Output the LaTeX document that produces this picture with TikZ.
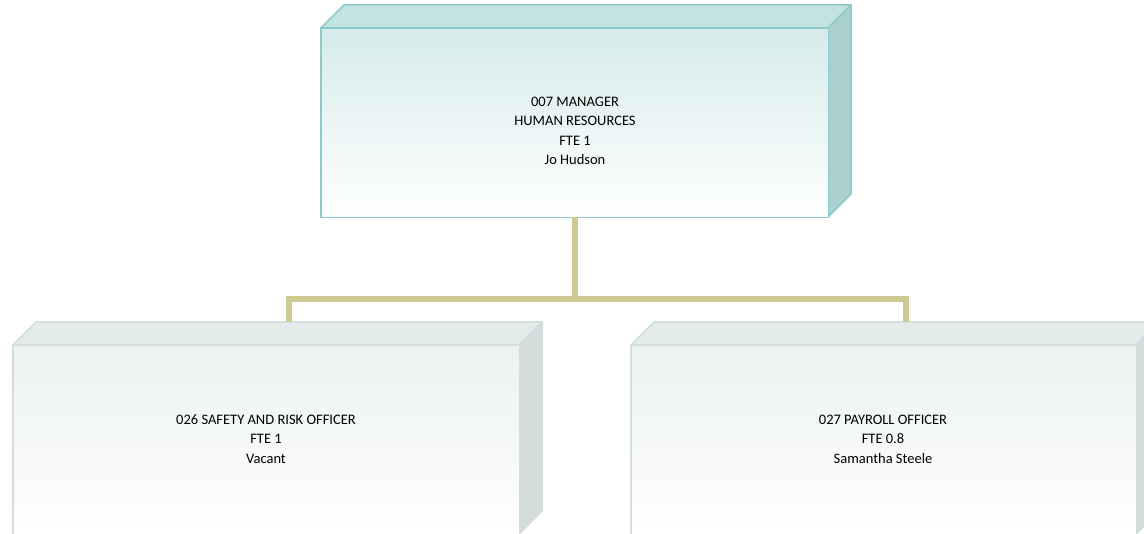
\documentclass[tikz,border=0pt]{standalone}
\usepackage{fontspec}
\setmainfont{Carlito}
\definecolor{tealfront}{HTML}{D6EBEB}
\definecolor{tealedge}{HTML}{8FCACA}
\definecolor{tealtop}{HTML}{C3E2E2}
\definecolor{tealside}{HTML}{ABD0D0}
\definecolor{greyfront}{HTML}{ECF1F1}
\definecolor{greyedge}{HTML}{D2DDDD}
\definecolor{greytop}{HTML}{E4EBEB}
\definecolor{greyside}{HTML}{D5DCDC}
\definecolor{olive}{HTML}{CDCA92}
\begin{document}
\begin{tikzpicture}[x=1pt,y=-1pt,
  frontA/.style={top color=tealfront, bottom color=white, minimum width=507pt, minimum height=189pt, inner sep=0pt, anchor=north west},
  frontB/.style={top color=greyfront, bottom color=white, minimum width=506pt, minimum height=189pt, inner sep=0pt, anchor=north west},
  edgeA/.style={draw=tealedge, line width=1.5pt},
  edgeB/.style={draw=greyedge, line width=1.5pt},
  lbl/.style={font=\fontsize{14.5}{19.5}\selectfont, align=center, anchor=center, text=black},
  topA/.style={draw=tealedge, line width=1.5pt, fill=tealtop, line join=round},
  sideA/.style={draw=tealedge, line width=1.5pt, fill=tealside, line join=round},
  topB/.style={draw=greyedge, line width=1.5pt, fill=greytop, line join=round},
  sideB/.style={draw=greyedge, line width=1.5pt, fill=greyside, line join=round},
  conn/.style={draw=olive, line width=6pt, line join=miter}
]
\useasboundingbox (0,0) rectangle (1144,534);
\clip (0,0) rectangle (1144,534);
% top box
\path[topA] (321,28) -- (344,5) -- (851,5) -- (828,28) -- cycle;
\path[sideA] (828,28) -- (851,5) -- (851,194) -- (828,217) -- cycle;
\node[frontA] (mgr) at (321,28) {};
\draw[edgeA] (mgr.north west) rectangle (mgr.south east);
\node[lbl] (mgrtext) at (575,131) {007 MANAGER\\HUMAN RESOURCES\\FTE 1\\Jo Hudson};
% lower left box
\path[topB] (13,345) -- (36,322) -- (542,322) -- (519,345) -- cycle;
\path[sideB] (519,345) -- (542,322) -- (542,511) -- (519,534) -- cycle;
\node[frontB] (safety) at (13,345) {};
\draw[edgeB] (safety.north west) rectangle (safety.south east);
\node[lbl] (safetytext) at (266,439) {026 SAFETY AND RISK OFFICER\\FTE 1\\Vacant};
% lower right box
\path[topB] (631,345) -- (654,322) -- (1159,322) -- (1136,345) -- cycle;
\path[sideB] (1136,345) -- (1159,322) -- (1159,511) -- (1136,534) -- cycle;
\node[frontB, minimum width=505pt] (payroll) at (631,345) {};
\draw[edgeB] (payroll.north west) rectangle (payroll.south east);
\node[lbl] (payrolltext) at (883,439) {027 PAYROLL OFFICER\\FTE 0.8\\Samantha Steele};
% connectors
\coordinate (bus) at (575,299);
\coordinate (lj) at (289,299);
\coordinate (rj) at (906,299);
\coordinate (ld) at (289,322);
\coordinate (rd) at (906,322);
\draw[conn] (mgr.south -| bus) -- (bus);
\draw[conn] (ld) -- (lj) -- (rj) -- (rd);
\end{tikzpicture}
\end{document}
